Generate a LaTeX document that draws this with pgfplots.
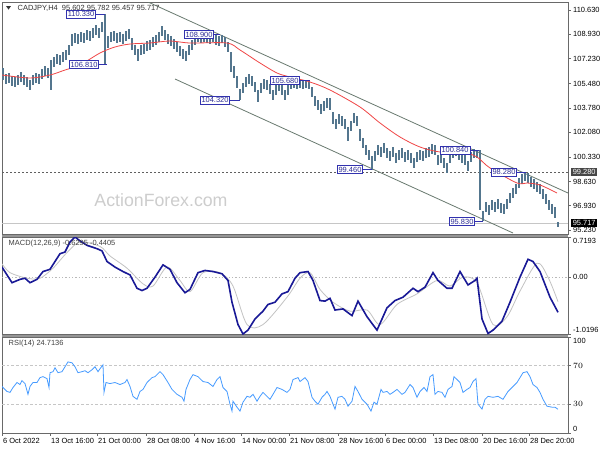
\documentclass[border=0pt]{standalone}
\usepackage{pgfplots}
\pgfplotsset{compat=1.18}
\usepackage{fontspec}
\setmainfont{Liberation Sans}

\definecolor{candle}{RGB}{84,118,142}
\definecolor{maline}{RGB}{240,70,70}
\definecolor{chan}{RGB}{105,122,112}
\definecolor{lblblue}{RGB}{50,50,175}
\definecolor{macdblue}{RGB}{25,25,150}
\definecolor{sigray}{RGB}{195,195,195}
\definecolor{rsiblue}{RGB}{70,155,255}
\definecolor{frame}{RGB}{105,105,105}
\definecolor{gapgray}{RGB}{150,150,150}
\definecolor{wmark}{RGB}{205,205,205}

\newcommand\lbl{\fontsize{5.6}{6.5}\selectfont}

\pgfplotsset{
  panel/.style={
    scale only axis, width=424.5pt, xmin=2, xmax=568,
    anchor=north west,
    axis line style={frame, line width=0.75pt},
    xtick=\empty,
    ytick pos=right, yticklabel pos=right,
    tick align=outside, major tick length=2.2pt,
    tick style={frame, line width=0.5pt},
    yticklabel style={font=\lbl, anchor=west, inner sep=1.5pt},
    xticklabel style={font=\lbl},
  },
}
\tikzset{
  pbox/.style={draw=lblblue, fill=white, text=lblblue!85!black, font=\lbl,
    inner sep=1pt, line width=0.5pt},
}

\begin{document}
\begin{tikzpicture}
\fill[white] (0,0) rectangle (450pt,-337.5pt);
\useasboundingbox (0,0) rectangle (450pt,-337.5pt);
\fill[gapgray] (1.5pt,-175.5pt) rectangle (426pt,-177.4pt);
\fill[gapgray] (1.5pt,-250.5pt) rectangle (426pt,-252.4pt);

% ---------------- price panel ----------------
\begin{axis}[panel, at={(1.5pt,-1.5pt)}, height=174pt,
    ymin=94.95, ymax=111.19,
    ytick={95.23,96.93,98.63,100.33,102.08,103.78,105.48,107.23,108.93,110.63},
    yticklabels={95.230,96.930,98.630,100.330,102.080,103.780,105.480,107.230,108.930,110.630},
]
% support / current price lines
\addplot[gray!75!black, line width=0.5pt, dash pattern=on 1.5pt off 1.5pt] coordinates {(2,99.28) (568,99.28)};
\addplot[gray!45, line width=0.6pt] coordinates {(2,95.717) (568,95.717)};

% channel
\addplot[chan, line width=0.6pt] coordinates {(148,111.19) (568,97.82)};
\addplot[chan, line width=0.6pt] coordinates {(175,105.80) (513,95.02)};

% H4 bars, high-low range: x  centre  half-range
\addplot[draw=none, mark=none, forget plot,
    error bars/.cd, y dir=both, y explicit, error mark=none,
    error bar style={draw=candle, line width=1.45pt}]
  table[x=x, y=c, y error=e] {
x c e
3 106.15 0.42
6 105.80 0.33
9 105.87 0.33
12 105.66 0.33
15 105.59 0.33
18 105.73 0.33
21 105.94 0.33
24 105.73 0.33
27 105.59 0.33
30 105.38 0.38
33 105.73 0.33
36 105.87 0.33
39 105.80 0.33
42 106.15 0.33
45 106.36 0.33
48 106.22 0.33
51 106.08 1.05
54 106.99 0.33
57 107.20 0.33
60 107.13 0.33
63 107.34 0.33
66 107.48 0.33
69 107.83 0.38
72 108.53 0.40
75 108.67 0.33
78 108.60 0.33
81 108.74 0.33
84 108.67 0.33
87 108.88 0.33
90 108.81 0.33
93 109.02 0.33
96 109.23 0.33
99 109.02 0.33
102 109.44 0.33
105 108.57 1.76
108 108.39 0.40
111 108.74 0.33
114 108.81 0.33
117 108.67 0.33
120 108.74 0.33
123 108.60 0.33
126 108.81 0.33
129 108.95 0.33
132 108.25 0.40
135 107.83 0.33
138 107.48 0.40
141 107.83 0.33
144 107.90 0.33
147 108.11 0.33
150 108.18 0.33
153 108.39 0.33
156 108.53 0.33
159 108.74 0.33
162 109.16 0.38
165 108.88 0.33
168 108.60 0.33
171 108.46 0.33
174 108.25 0.33
177 108.04 0.33
180 107.76 0.33
183 107.55 0.33
186 107.41 0.38
189 107.83 0.33
192 108.18 0.33
195 108.53 0.33
198 108.74 0.33
201 108.67 0.33
204 108.74 0.33
207 108.67 0.33
210 108.60 0.33
213 108.65 0.25
216 108.53 0.33
219 108.46 0.33
222 108.60 0.30
225 108.39 0.33
228 108.04 0.38
231 106.99 0.70
234 106.29 0.45
237 105.59 0.45
240 104.71 0.38
243 105.17 0.33
246 105.59 0.33
249 105.80 0.33
252 105.66 0.33
255 105.24 0.33
258 104.61 0.40
261 105.17 0.33
264 105.45 0.33
267 105.38 0.33
270 105.10 0.33
273 104.68 0.33
276 105.03 0.33
279 105.31 0.33
282 105.03 0.33
285 104.68 0.33
288 105.03 0.33
291 105.38 0.28
294 105.42 0.26
297 105.40 0.28
300 105.42 0.26
303 105.40 0.28
306 105.42 0.26
309 105.38 0.30
312 104.89 0.38
315 104.26 0.33
318 103.98 0.33
321 103.70 0.33
324 103.91 0.33
327 104.12 0.33
330 104.05 0.40
333 103.07 0.45
336 102.65 0.33
339 103.00 0.33
342 102.86 0.33
345 102.65 0.33
348 101.95 0.48
351 102.51 0.33
354 103.07 0.38
357 102.86 0.33
360 101.88 0.40
363 101.32 0.33
366 100.83 0.33
369 100.48 0.33
372 99.92 0.48
375 100.41 0.33
378 100.83 0.33
381 100.69 0.33
384 100.97 0.33
387 100.62 0.33
390 100.41 0.33
393 100.69 0.33
396 100.27 0.33
399 100.48 0.33
402 100.62 0.33
405 100.34 0.33
408 100.48 0.33
411 100.27 0.33
414 99.92 0.33
417 100.34 0.33
420 100.48 0.33
423 100.41 0.33
426 100.62 0.33
429 100.69 0.33
432 100.90 0.33
435 100.83 0.33
438 100.13 0.38
441 100.27 0.33
444 99.92 0.33
447 99.57 0.38
450 100.27 0.33
453 100.62 0.33
456 100.76 0.33
459 100.48 0.33
462 100.27 0.33
465 100.13 0.33
468 99.71 0.38
471 100.34 0.33
474 100.60 0.33
477 100.55 0.30
480 98.73 2.10
483 96.21 0.38
486 96.84 0.33
489 96.63 0.33
492 96.98 0.33
495 96.84 0.33
498 97.05 0.33
501 96.77 0.33
504 96.70 0.33
507 97.05 0.33
510 97.47 0.33
513 97.82 0.33
516 98.10 0.33
519 98.52 0.33
522 98.80 0.33
525 98.98 0.30
528 98.87 0.33
531 98.59 0.33
534 98.45 0.33
537 98.24 0.33
540 98.10 0.33
543 97.75 0.33
546 97.40 0.33
549 96.98 0.33
552 96.70 0.33
555 96.45 0.38
558 95.62 0.16
};

% moving average
\addplot[maline, line width=0.6pt, smooth] coordinates {
(2,106.08) (30,105.87) (50,106.08) (65,106.43) (80,106.78) (100,107.62)
(115,108.04) (130,108.25) (150,108.32) (170,108.46) (190,108.32) (227,108.32)
(240,107.83) (260,106.92) (277,106.22) (290,105.94) (310,105.59) (330,105.03)
(360,103.84) (380,102.72) (400,101.74) (420,101.04) (440,100.69) (465,100.62)
(477,100.34) (490,99.57) (517,98.52) (527,98.52) (540,98.38) (557,97.82)};

% swing labels
\node[pbox] (l1) at (axis cs:81,110.33) {110.330};
\draw[lblblue, line width=0.5pt] (l1.east) -- (axis cs:105,110.33);
\node[pbox] (l2) at (axis cs:84,106.81) {106.810};
\draw[lblblue, line width=0.5pt] (l2.east) -- (axis cs:107,106.81);
\node[pbox] (l3) at (axis cs:199,108.90) {108.900};
\draw[lblblue, line width=0.5pt] (l3.east) -- (axis cs:220,108.90);
\node[pbox] (l4) at (axis cs:215,104.32) {104.320};
\draw[lblblue, line width=0.5pt] (l4.east) -- (axis cs:240,104.32);
\node[pbox] (l5) at (axis cs:285,105.68) {105.680};
\draw[lblblue, line width=0.5pt] (l5.east) -- (axis cs:310,105.68);
\node[pbox] (l6) at (axis cs:350,99.46) {99.460};
\draw[lblblue, line width=0.5pt] (l6.east) -- (axis cs:372,99.46);
\node[pbox] (l7) at (axis cs:455,100.84) {100.840};
\draw[lblblue, line width=0.5pt] (l7.east) -- (axis cs:479,100.84);
\node[pbox] (l8) at (axis cs:504,99.28) {98.280};
\draw[lblblue, line width=0.5pt] (l8.east) -- (axis cs:526,99.28);
\node[pbox] (l9) at (axis cs:462,95.83) {95.830};
\draw[lblblue, line width=0.5pt] (l9.east) -- (axis cs:483,95.83);

\coordinate (p9928) at (axis cs:568,99.28);
\coordinate (p95717) at (axis cs:568,95.717);
\end{axis}

% ---------------- MACD panel ----------------
\begin{axis}[panel, at={(1.5pt,-177.75pt)}, height=72.75pt,
    ymin=-1.0196, ymax=0.7193,
    ytick={0}, yticklabels={0.00},
    extra y ticks={-1.0196,0.7193}, extra y tick labels={},
]
\addplot[gray!55, line width=0.5pt, dash pattern=on 1pt off 1.5pt] coordinates {(2,0) (568,0)};
\addplot[sigray, line width=0.6pt, smooth] coordinates {
(2,0.24) (10,0.08) (27,-0.02) (40,-0.02) (53,0.16) (67,0.44) (80,0.63) (100,0.55)
(110,0.38) (127,0.16) (143,-0.12) (153,-0.16) (167,0.18) (180,-0.06) (190,-0.26)
(203,0.08) (220,0.08) (233,-0.16) (247,-0.85) (263,-0.85) (287,-0.36) (300,-0.02)
(310,0.08) (320,-0.22) (333,-0.45) (350,-0.61) (367,-0.59) (380,-0.85) (397,-0.49)
(417,-0.30) (437,-0.06) (450,-0.16) (463,0.00) (477,-0.10) (493,-0.85) (507,-0.71)
(520,-0.25) (537,0.25) (548,0.00) (558,-0.44)};
\addplot[macdblue, line width=1.2pt] coordinates {
(2,0.18) (12,-0.10) (20,-0.04) (25,-0.02) (30,-0.10) (37,-0.04) (43,0.10) (50,0.14)
(55,0.28) (60,0.42) (65,0.45) (70,0.63) (75,0.7193) (80,0.65) (87,0.57) (97,0.51)
(102,0.47) (107,0.28) (115,0.18) (123,0.10) (130,0.04) (137,-0.20) (142,-0.24)
(147,-0.20) (155,0.00) (163,0.22) (170,0.14) (177,-0.10) (185,-0.28) (190,-0.22)
(198,0.08) (205,0.12) (213,0.10) (222,0.06) (228,-0.06) (232,-0.45) (238,-0.85)
(243,-1.0196) (248,-0.95) (255,-0.75) (263,-0.61) (268,-0.49) (275,-0.45) (282,-0.30)
(288,-0.26) (295,-0.02) (300,0.08) (308,0.10) (313,-0.06) (320,-0.42) (325,-0.43)
(330,-0.38) (335,-0.59) (343,-0.57) (352,-0.69) (358,-0.43) (367,-0.71) (377,-0.95)
(387,-0.55) (395,-0.42) (403,-0.36) (413,-0.20) (418,-0.26) (425,-0.18) (433,0.08)
(438,-0.06) (447,-0.20) (452,-0.20) (460,0.10) (468,-0.14) (475,-0.06) (477,-0.02)
(482,-0.75) (488,-1.01) (493,-0.95) (502,-0.79) (510,-0.45) (520,0.00) (528,0.32)
(533,0.28) (540,0.10) (550,-0.36) (558,-0.63)};
\coordinate (mtop) at (axis cs:568,0.7193);
\coordinate (mbot) at (axis cs:568,-1.0196);
\end{axis}

% ---------------- RSI panel ----------------
\begin{axis}[panel, at={(1.5pt,-252.75pt)}, height=72pt,
    ymin=0, ymax=100,
    ytick={30,70}, extra y ticks={0,100}, extra y tick labels={},
    xtick={2,50,97,146,194,241,289,338,385,433,482,529},
    xticklabels={6 Oct 2022,13 Oct 16:00,21 Oct 00:00,28 Oct 08:00,4 Nov 16:00,14 Nov 00:00,21 Nov 08:00,28 Nov 16:00,6 Dec 00:00,13 Dec 08:00,20 Dec 16:00,28 Dec 20:00},
    xtick pos=bottom,
    xticklabel style={anchor=north west, xshift=-0.5pt, inner sep=1.2pt},
]
\addplot[gray!45, line width=0.5pt, dash pattern=on 2pt off 1.5pt] coordinates {(2,70) (568,70)};
\addplot[gray!45, line width=0.5pt, dash pattern=on 2pt off 1.5pt] coordinates {(2,30) (568,30)};
\addplot[rsiblue, line width=0.6pt] coordinates {
(2,48.5) (7,43.3) (10,42.3) (13,47.4) (17,52.6) (20,50.5) (22,54.6) (25,51.5) (28,40.3)
(30,48.5) (33,52.6) (37,52.6) (40,57.7) (43,58.7) (47,56.7) (49,47.4) (50,62.8) (53,63.9)
(55,68.0) (58,62.8) (62,63.9) (65,69.0) (68,74.1) (72,73.1) (75,69.0) (78,62.8) (82,63.9)
(85,64.9) (88,62.8) (92,65.9) (95,69.0) (98,63.9) (100,66.9) (103,71.0) (104,42.3)
(106,52.6) (110,51.5) (115,52.6) (120,50.5) (125,52.6) (127,55.7) (130,48.5) (133,38.2)
(137,35.1) (140,43.3) (143,45.4) (147,52.6) (152,57.7) (155,58.7) (160,63.9) (163,60.8)
(168,52.6) (172,45.4) (177,40.3) (182,37.2) (184,33.1) (186,45.4) (190,55.7) (193,60.8)
(198,58.7) (203,53.6) (208,52.6) (213,48.5) (217,55.7) (220,58.7) (223,47.4) (227,43.3)
(230,30.0) (232,22.8) (233,33.1) (237,26.9) (240,22.8) (243,32.1) (247,38.2) (250,37.2)
(253,40.3) (257,33.1) (260,38.2) (263,42.3) (267,38.2) (270,35.1) (273,40.3) (277,47.4)
(282,45.4) (287,42.3) (290,45.4) (293,55.7) (298,57.7) (300,53.6) (305,57.7) (308,53.6)
(312,37.2) (315,33.1) (318,30.0) (322,37.2) (325,40.3) (327,43.3) (330,38.2) (333,30.0)
(335,24.9) (338,37.2) (342,38.2) (345,35.1) (348,27.9) (352,33.1) (355,48.5) (358,43.3)
(362,35.1) (367,30.0) (371,22.8) (374,32.1) (377,30.0) (381,45.4) (383,42.3) (387,43.3)
(390,40.3) (393,42.3) (397,45.4) (402,40.3) (405,42.3) (410,50.5) (413,47.4) (417,37.2)
(420,43.3) (424,47.4) (427,43.3) (430,58.7) (433,60.8) (435,40.3) (438,43.3) (442,42.3)
(445,37.2) (448,45.4) (452,48.5) (454,58.7) (457,55.7) (460,52.6) (463,42.3) (467,45.4)
(470,47.4) (473,53.6) (476,56.7) (478,30.0) (482,24.9) (485,35.1) (488,38.2) (493,37.2)
(498,38.2) (503,35.1) (508,43.3) (513,48.5) (517,52.6) (520,57.7) (523,62.8) (527,63.9)
(530,58.7) (533,50.5) (537,47.4) (540,42.3) (543,35.1) (547,27.9) (552,26.9) (555,26.9)
(558,24.71)};
\coordinate (rtop) at (axis cs:568,100);
\coordinate (rbot) at (axis cs:568,0);
\end{axis}

% ---------------- texts outside the axes ----------------
\node[anchor=west, font=\lbl, text=black!80] at (9.75pt,-6pt) {CADJPY,H4\ \ 95.602 95.782 95.457 95.717};
\fill[black!80] (4.6pt,-4.6pt) -- (8.2pt,-4.6pt) -- (6.4pt,-7.2pt) -- cycle;
\node[font=\fontsize{13.3}{15}\selectfont, text=wmark] at (120.75pt,-150pt) {ActionForex.com};
\node[anchor=west, font=\lbl, text=black!75] at (3pt,-182.5pt) {MACD(12,26,9) -0.6295 -0.4405};
\node[anchor=west, font=\lbl, text=black!75] at (3pt,-257.5pt) {RSI(14) 24.7136};

\node[anchor=west, font=\lbl, fill=black!72, text=white, inner sep=1.2pt] at ([xshift=2.2pt]p9928) {99.280};
\node[anchor=west, font=\lbl, fill=black, text=white, inner sep=1.2pt] at ([xshift=2.2pt]p95717) {95.717};
\node[anchor=north west, font=\lbl, inner sep=1.5pt] at ([xshift=2.2pt,yshift=0.6pt]mtop) {0.7193};
\node[anchor=south west, font=\lbl, inner sep=1.5pt] at ([xshift=2.2pt,yshift=-0.6pt]mbot) {-1.0196};
\node[anchor=north west, font=\lbl, inner sep=1.5pt] at ([xshift=2.2pt,yshift=0.6pt]rtop) {100};
\node[anchor=south west, font=\lbl, inner sep=1.5pt] at ([xshift=2.2pt,yshift=-0.6pt]rbot) {0};
\end{tikzpicture}
\end{document}
